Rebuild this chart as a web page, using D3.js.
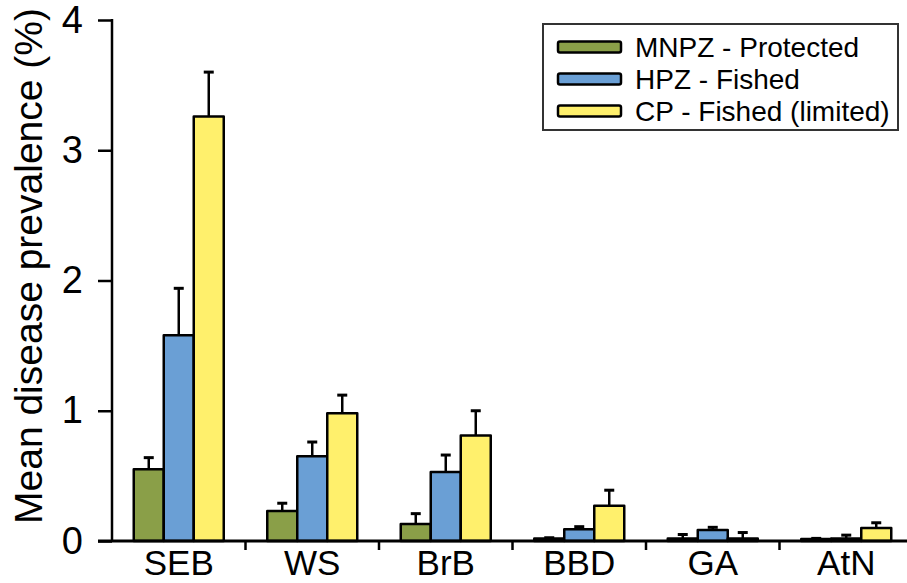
<!DOCTYPE html>
<html>
<head>
<meta charset="utf-8">
<script src="https://cdn.jsdelivr.net/npm/d3@7"></script>
<style>
  html, body { margin: 0; padding: 0; background: #fff; }
  svg { display: block; font-family: "Liberation Sans", Arial, Helvetica, sans-serif; }
</style>
</head>
<body>
<svg id="chart" width="907" height="583"></svg>
<script>
// Disease categories along the x axis
const categories = ["SEB", "WS", "BrB", "BBD", "GA", "AtN"];

// Management zones (series)
const seriesNames = ["MNPZ - Protected", "HPZ - Fished", "CP - Fished (limited)"];
const seriesColors = ["#8a9f48", "#6a9fd5", "#fff06c"];

// Mean prevalence (%) per category, one array per zone
const mnpzMean = [0.55, 0.23, 0.13, 0.02, 0.02, 0.015];
const hpzMean  = [1.58, 0.65, 0.53, 0.09, 0.085, 0.02];
const cpMean   = [3.26, 0.98, 0.81, 0.27, 0.02, 0.10];

// Upper error (standard error) per category, one array per zone
const mnpzErr = [0.09, 0.06, 0.08, 0.005, 0.03, 0.005];
const hpzErr  = [0.36, 0.11, 0.13, 0.02, 0.02, 0.025];
const cpErr   = [0.34, 0.14, 0.19, 0.12, 0.045, 0.04];

const yTicks = [0, 1, 2, 3, 4];
const yLabel = "Mean disease prevalence (%)";

const means = [mnpzMean, hpzMean, cpMean];
const errs = [mnpzErr, hpzErr, cpErr];

const svg = d3.select("#chart");

const y = d3.scaleLinear().domain([0, 4]).range([541, 20]);
const x = d3.scaleBand().domain(categories).range([112, 913]).paddingInner(0).paddingOuter(0);
const xs = d3.scaleBand().domain(d3.range(seriesNames.length))
  .range([x.bandwidth() / 2 - 45, x.bandwidth() / 2 + 45]).padding(0);

// Bars with upper error whiskers
const groups = svg.append("g").selectAll("g")
  .data(categories)
  .join("g")
  .attr("transform", d => `translate(${x(d)},0)`);

seriesNames.forEach((name, s) => {
  const cx = xs(s) + xs.bandwidth() / 2;
  groups.append("line")
    .attr("x1", cx).attr("x2", cx)
    .attr("y1", (d, i) => y(means[s][i]))
    .attr("y2", (d, i) => y(means[s][i] + errs[s][i]))
    .attr("stroke", "#000").attr("stroke-width", 2.5);
  groups.append("line")
    .attr("x1", cx - 5).attr("x2", cx + 5)
    .attr("y1", (d, i) => y(means[s][i] + errs[s][i]))
    .attr("y2", (d, i) => y(means[s][i] + errs[s][i]))
    .attr("stroke", "#000").attr("stroke-width", 3);
  groups.append("rect")
    .attr("x", xs(s))
    .attr("width", xs.bandwidth())
    .attr("y", (d, i) => y(means[s][i]))
    .attr("height", (d, i) => y(0) - y(means[s][i]))
    .attr("fill", seriesColors[s])
    .attr("stroke", "#000")
    .attr("stroke-width", 2.5)
    .attr("stroke-linejoin", "round");
});

// Y axis
const yAxis = svg.append("g")
  .attr("transform", "translate(112,0)")
  .call(d3.axisLeft(y).tickValues(yTicks).tickFormat(d3.format("d")).tickSize(14).tickPadding(15));
yAxis.select(".domain").attr("stroke", "#000").attr("stroke-width", 2.5)
  .attr("d", `M0,${y(4) - 1}V${y(0)}`);
yAxis.selectAll(".tick line").attr("stroke", "#000").attr("stroke-width", 2.5);
yAxis.selectAll(".tick text").attr("font-size", 38).attr("fill", "#000")
  .attr("font-family", "Liberation Sans, Arial, sans-serif");

// X axis
const xAxis = svg.append("g")
  .attr("transform", `translate(0,${y(0)})`)
  .call(d3.axisBottom(x).tickSize(0).tickPadding(9));
xAxis.select(".domain").attr("stroke", "#000").attr("stroke-width", 3)
  .attr("d", "M98,0H913");
xAxis.selectAll(".tick text").attr("font-size", 35).attr("fill", "#000")
  .attr("font-family", "Liberation Sans, Arial, sans-serif");
// Separator ticks between categories
xAxis.append("g").selectAll("line")
  .data(categories.slice(1))
  .join("line")
  .attr("x1", d => x(d)).attr("x2", d => x(d))
  .attr("y1", 0).attr("y2", 9)
  .attr("stroke", "#000").attr("stroke-width", 2.5);

// Y axis title
svg.append("text")
  .attr("transform", `translate(42,266) rotate(-90)`)
  .attr("text-anchor", "middle")
  .attr("font-size", 39)
  .text(yLabel);

// Legend
const legend = svg.append("g").attr("transform", "translate(543,24)");
legend.append("rect")
  .attr("width", 355).attr("height", 106)
  .attr("fill", "#fff").attr("stroke", "#333").attr("stroke-width", 2);
const items = legend.selectAll("g.item")
  .data(seriesNames)
  .join("g").attr("class", "item")
  .attr("transform", (d, i) => `translate(0,${23 + i * 32})`);
items.append("rect")
  .attr("x", 15).attr("y", -5.5).attr("width", 63).attr("height", 11)
  .attr("rx", 2)
  .attr("fill", (d, i) => seriesColors[i])
  .attr("stroke", "#000").attr("stroke-width", 2.5);
items.append("text")
  .attr("x", 92).attr("y", 10)
  .attr("font-size", 28)
  .text(d => d);
</script>
</body>
</html>
